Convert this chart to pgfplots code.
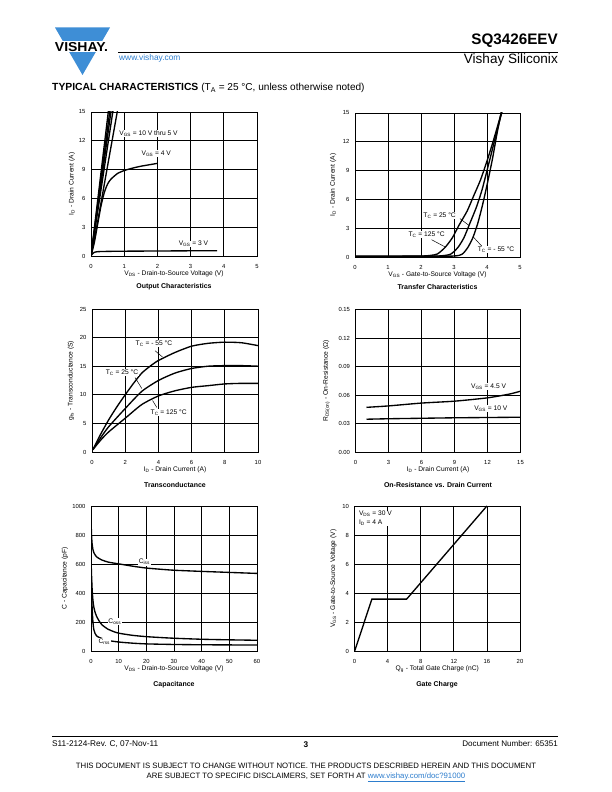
\documentclass[border=0pt]{standalone}
\usepackage{fontspec}
\setmainfont{Liberation Sans}
\usepackage{pgfplots}
\pgfplotsset{compat=1.18}
\definecolor{vblue}{RGB}{62,142,214}
\definecolor{linkblue}{RGB}{45,125,205}
\newcommand{\fs}[1]{\fontsize{#1}{#1}\selectfont}
\newcommand{\sub}[1]{\textsubscript{#1}}

\tikzset{lab/.style={font=\fontsize{6.7}{8.3}\selectfont,fill=white,inner sep=0.6pt}}
\pgfplotsset{
  ds/.style={
    scale only axis,
    anchor=south west,
    axis line style={line width=0.8pt},
    grid=major,
    major grid style={black,line width=0.7pt},
    major tick length=0pt,
    tick label style={font=\fs{5.9}},
    label style={font=\fs{6.7}},
    /pgf/number format/assume math mode=true,
    /pgf/number format/1000 sep={},
    xticklabel style={yshift=-4.5bp},
    yticklabel style={xshift=-2bp},
    x label style={at={(axis description cs:0.5,0)},anchor=center,yshift=-18bp},
    every axis plot/.append style={smooth,tension=0.4},
    every axis plot post/.append style={black,solid,line width=1.35pt,mark=none},
  },
  yl/.style={y label style={at={(axis description cs:#1,0.5)},anchor=center}},
}

\begin{document}
\begin{tikzpicture}
\useasboundingbox (0,0) rectangle (612bp,792bp);

% header
\fill[vblue] (55bp,764.5bp) -- (110bp,764.5bp) -- (82.5bp,717bp) -- cycle;
\fill[white] (50bp,739.5bp) rectangle (115bp,751bp);
\node[font=\bfseries\fs{13},xscale=1.08,inner sep=0] at (81.5bp,745bp) {VISHAY.};
\draw[line width=0.8pt] (118bp,739.7bp) -- (558bp,739.7bp);
\node[font=\bfseries\fs{15.3},anchor=east,inner sep=0] at (558bp,751bp) {SQ3426EEV};
\node[font=\fs{13.6},anchor=east,inner sep=0] at (558bp,731.5bp) {Vishay Siliconix};
\node[font=\fs{8.4},text=linkblue,anchor=west,inner sep=0] at (119bp,733.5bp) {www.vishay.com};
\node[anchor=west,inner sep=0] at (52bp,704bp) {\bfseries\fs{10.4}TYPICAL CHARACTERISTICS \mdseries\fs{10.1}(T\sub{A} = 25 °C, unless otherwise noted)};

% ---------- Output characteristics
\begin{axis}[ds, at={(91bp,536bp)}, width=166bp, height=144bp,
  xmin=0, xmax=5, ymin=0, ymax=15, xtick={0,1,...,5}, ytick={0,3,...,15},
  xlabel={V\sub{DS} - Drain-to-Source Voltage (V)},
  ylabel={I\sub{D} - Drain Current (A)}, yl=-0.115]
\addplot coordinates {(0,0) (0.555,16)};
\addplot coordinates {(0,0) (0.6,16)};
\addplot coordinates {(0,0) (0.64,16)};
\addplot coordinates {(0,0) (0.2,4.6) (0.7,16)};
\addplot coordinates {(0,0) (0.17,3) (0.5,9.4) (0.79,15) (0.84,16)};
\addplot coordinates {(0,0) (0.1,1.4) (0.2,3.3) (0.3,5.2) (0.4,6.6) (0.5,7.5) (0.6,8.0) (0.8,8.6) (1.0,8.9) (1.25,9.15) (1.5,9.35) (1.75,9.5) (2.0,9.65)};
\addplot coordinates {(0,0) (0.05,0.25) (0.1,0.38) (0.2,0.45) (0.5,0.48) (1,0.5) (2,0.52) (3,0.54) (3.8,0.55)};
\node[lab,anchor=west] at (axis cs:0.83,12.8) {V\sub{GS} = 10 V thru 5 V};
\node[lab,anchor=west] at (axis cs:1.5,10.7) {V\sub{GS} = 4 V};
\node[lab,anchor=west] at (axis cs:2.62,1.25) {V\sub{GS} = 3 V};
\end{axis}
\node[font=\bfseries\fs{7}] at (174bp,505bp) {Output Characteristics};

% ---------- Transfer characteristics
\begin{axis}[ds, at={(355bp,535bp)}, width=165bp, height=144bp,
  xmin=0, xmax=5, ymin=0, ymax=15, xtick={0,1,...,5}, ytick={0,3,...,15},
  xlabel={V\sub{GS} - Gate-to-Source Voltage (V)},
  ylabel={I\sub{D} - Drain Current (A)}, yl=-0.133]
\addplot coordinates {(0,0.08) (1,0.08) (2,0.1) (2.3,0.17) (2.5,0.32) (2.73,1.0) (2.95,2.0) (3.15,3.3) (3.4,4.8) (3.6,6.4) (3.8,8.0) (4.0,10.0) (4.2,12.2) (4.45,15.2)};
\addplot coordinates {(0,0.08) (1,0.08) (2,0.08) (2.6,0.12) (2.9,0.3) (3.12,1.0) (3.3,2.0) (3.48,3.5) (3.68,5.2) (3.85,7.0) (4.0,9.0) (4.17,11.3) (4.33,13.5) (4.46,15.2)};
\addplot coordinates {(0,0.08) (1,0.08) (2,0.08) (3.0,0.1) (3.25,0.3) (3.42,1.0) (3.57,2.0) (3.72,3.5) (3.87,5.5) (4.02,7.8) (4.17,10.3) (4.3,12.8) (4.44,15.2)};
\draw[line width=0.5pt] (axis cs:3.18,4.0) -- (axis cs:3.45,3.3);
\draw[line width=0.5pt] (axis cs:2.32,1.8) -- (axis cs:2.73,1.05);
\draw[line width=0.5pt] (axis cs:3.85,1.1) -- (axis cs:3.58,2.1);
\node[lab,anchor=west] at (axis cs:2.05,4.3) {T\sub{C} = 25 °C};
\node[lab,anchor=west] at (axis cs:1.6,2.3) {T\sub{C} = 125 °C};
\node[lab,anchor=west] at (axis cs:3.7,0.8) {T\sub{C} = - 55 °C};
\end{axis}
\node[font=\bfseries\fs{7}] at (437.5bp,505bp) {Transfer Characteristics};

% ---------- Transconductance
\begin{axis}[ds, at={(92bp,340bp)}, width=166bp, height=143bp,
  xmin=0, xmax=10, ymin=0, ymax=25, xtick={0,2,...,10}, ytick={0,5,...,25},
  xlabel={I\sub{D} - Drain Current (A)},
  ylabel={g\sub{fs} - Transconductance (S)}, yl=-0.127]
\addplot coordinates {(0.05,0.4) (0.5,3.0) (1,5.6) (1.5,7.9) (2,10.0) (2.5,12.0) (3,13.8) (3.5,15.0) (4,16.0) (5,17.4) (6,18.5) (7,19.0) (8,19.2) (9,19.1) (10,18.6)};
\addplot coordinates {(0.05,0.4) (0.5,2.4) (1,4.4) (2,7.6) (3,10.6) (4,12.5) (5,13.8) (6,14.6) (7,15.0) (8,15.1) (9,15.1) (10,15.0)};
\addplot coordinates {(0.05,0.4) (0.5,2.0) (1,3.5) (2,5.9) (3,8.3) (4,9.8) (5,10.7) (6,11.3) (7,11.6) (8,11.9) (9,12.0) (10,12.0)};
\draw[line width=0.5pt] (axis cs:3.8,17.7) -- (axis cs:4.25,16.6);
\draw[line width=0.5pt] (axis cs:2.6,13.0) -- (axis cs:3.0,11.1);
\draw[line width=0.5pt] (axis cs:3.9,7.8) -- (axis cs:3.65,9.0);
\node[lab] at (axis cs:3.73,18.9) {T\sub{C} = - 55 °C};
\node[lab] at (axis cs:1.81,13.9) {T\sub{C} = 25 °C};
\node[lab] at (axis cs:4.62,6.9) {T\sub{C} = 125 °C};
\end{axis}
\node[font=\bfseries\fs{7}] at (175bp,307bp) {Transconductance};

% ---------- On-resistance
\begin{axis}[ds, at={(355.5bp,340bp)}, width=165bp, height=142.5bp,
  xmin=0, xmax=15, ymin=0, ymax=0.15, xtick={0,3,...,15}, ytick={0,0.03,...,0.15},
  yticklabel style={/pgf/number format/.cd,fixed,fixed zerofill,precision=2},
  scaled y ticks=false,
  xlabel={I\sub{D} - Drain Current (A)},
  ylabel={R\sub{DS(on)} - On-Resistance (Ω)}, yl=-0.176]
\addplot coordinates {(1,0.047) (3,0.0485) (6,0.0515) (9,0.0535) (12,0.057) (14,0.061) (15,0.064)};
\addplot coordinates {(1,0.0345) (3,0.035) (6,0.0355) (9,0.036) (12,0.0363) (15,0.0366)};
\node[lab] at (axis cs:12.1,0.0687) {V\sub{GS} = 4.5 V};
\node[lab] at (axis cs:12.3,0.0456) {V\sub{GS} = 10 V};
\end{axis}
\node[font=\bfseries\fs{7}] at (438bp,307bp) {On-Resistance vs. Drain Current};

% ---------- Capacitance
\begin{axis}[ds, at={(91bp,141bp)}, width=166bp, height=145bp,
  xmin=0, xmax=60, ymin=0, ymax=1000, xtick={0,10,...,60}, ytick={0,200,...,1000},
  xlabel={V\sub{DS} - Drain-to-Source Voltage (V)},
  ylabel={C - Capacitance (pF)}, yl=-0.157]
\addplot coordinates {(0,905) (0.2,800) (0.4,740) (0.7,700) (1,680) (1.5,662) (2,650) (3,637) (4,627) (6,614) (8,607) (10,601) (15,585) (20,572) (25,564) (30,557) (40,549) (50,542) (60,535)};
\addplot coordinates {(0,640) (0.2,520) (0.4,430) (0.7,350) (1,305) (1.5,265) (2,240) (3,205) (4,180) (6,152) (8,135) (10,123) (15,108) (20,99) (25,93) (30,88) (40,81) (50,77) (60,74)};
\addplot coordinates {(0,600) (0.2,420) (0.4,300) (0.7,200) (1,150) (1.5,120) (2,105) (3,93) (5,80) (7,70) (10,62) (15,54) (20,49) (30,45) (40,43) (50,42) (60,41)};
\node[lab] at (axis cs:19.3,613) {C\sub{iss}};
\node[lab] at (axis cs:8.6,205) {C\sub{oss}};
\node[lab] at (axis cs:4.8,66) {C\sub{rss}};
\end{axis}
\node[font=\bfseries\fs{7}] at (174bp,107.5bp) {Capacitance};

% ---------- Gate charge
\begin{axis}[ds, at={(354.5bp,140.5bp)}, width=165.5bp, height=145.5bp,
  xmin=0, xmax=20, ymin=0, ymax=10, xtick={0,4,...,20}, ytick={0,2,...,10},
  xlabel={Q\sub{g} - Total Gate Charge (nC)},
  ylabel={V\sub{GS} - Gate-to-Source Voltage (V)}, yl=-0.127]
\addplot[sharp plot] coordinates {(0,0) (2.1,3.6) (6.3,3.6) (16,10)};
\node[lab,anchor=north west,align=left] at (axis cs:0.45,9.7) {V\sub{DS} = 30 V\\I\sub{D} = 4 A};
\end{axis}
\node[font=\bfseries\fs{7}] at (437bp,107.5bp) {Gate Charge};

% footer
\draw[line width=0.6pt] (52bp,56bp) -- (558bp,56bp);
\node[font=\fs{8.3},anchor=west,inner sep=0] at (52bp,48bp) {S11-2124-Rev. C, 07-Nov-11};
\node[font=\bfseries\fs{8.3},inner sep=0] at (306bp,47.5bp) {3};
\node[font=\fs{8.1},anchor=east,inner sep=0] at (558bp,48bp) {Document Number: 65351};
\node[font=\fontsize{7.8}{9.3}\selectfont,align=center,inner sep=0] at (306bp,19.5bp) {THIS DOCUMENT IS SUBJECT TO CHANGE WITHOUT NOTICE. THE PRODUCTS DESCRIBED HEREIN AND THIS DOCUMENT\\ ARE SUBJECT TO SPECIFIC DISCLAIMERS, SET FORTH AT \textcolor{linkblue}{\underline{www.vishay.com/doc?91000}}};
\end{tikzpicture}
\end{document}
